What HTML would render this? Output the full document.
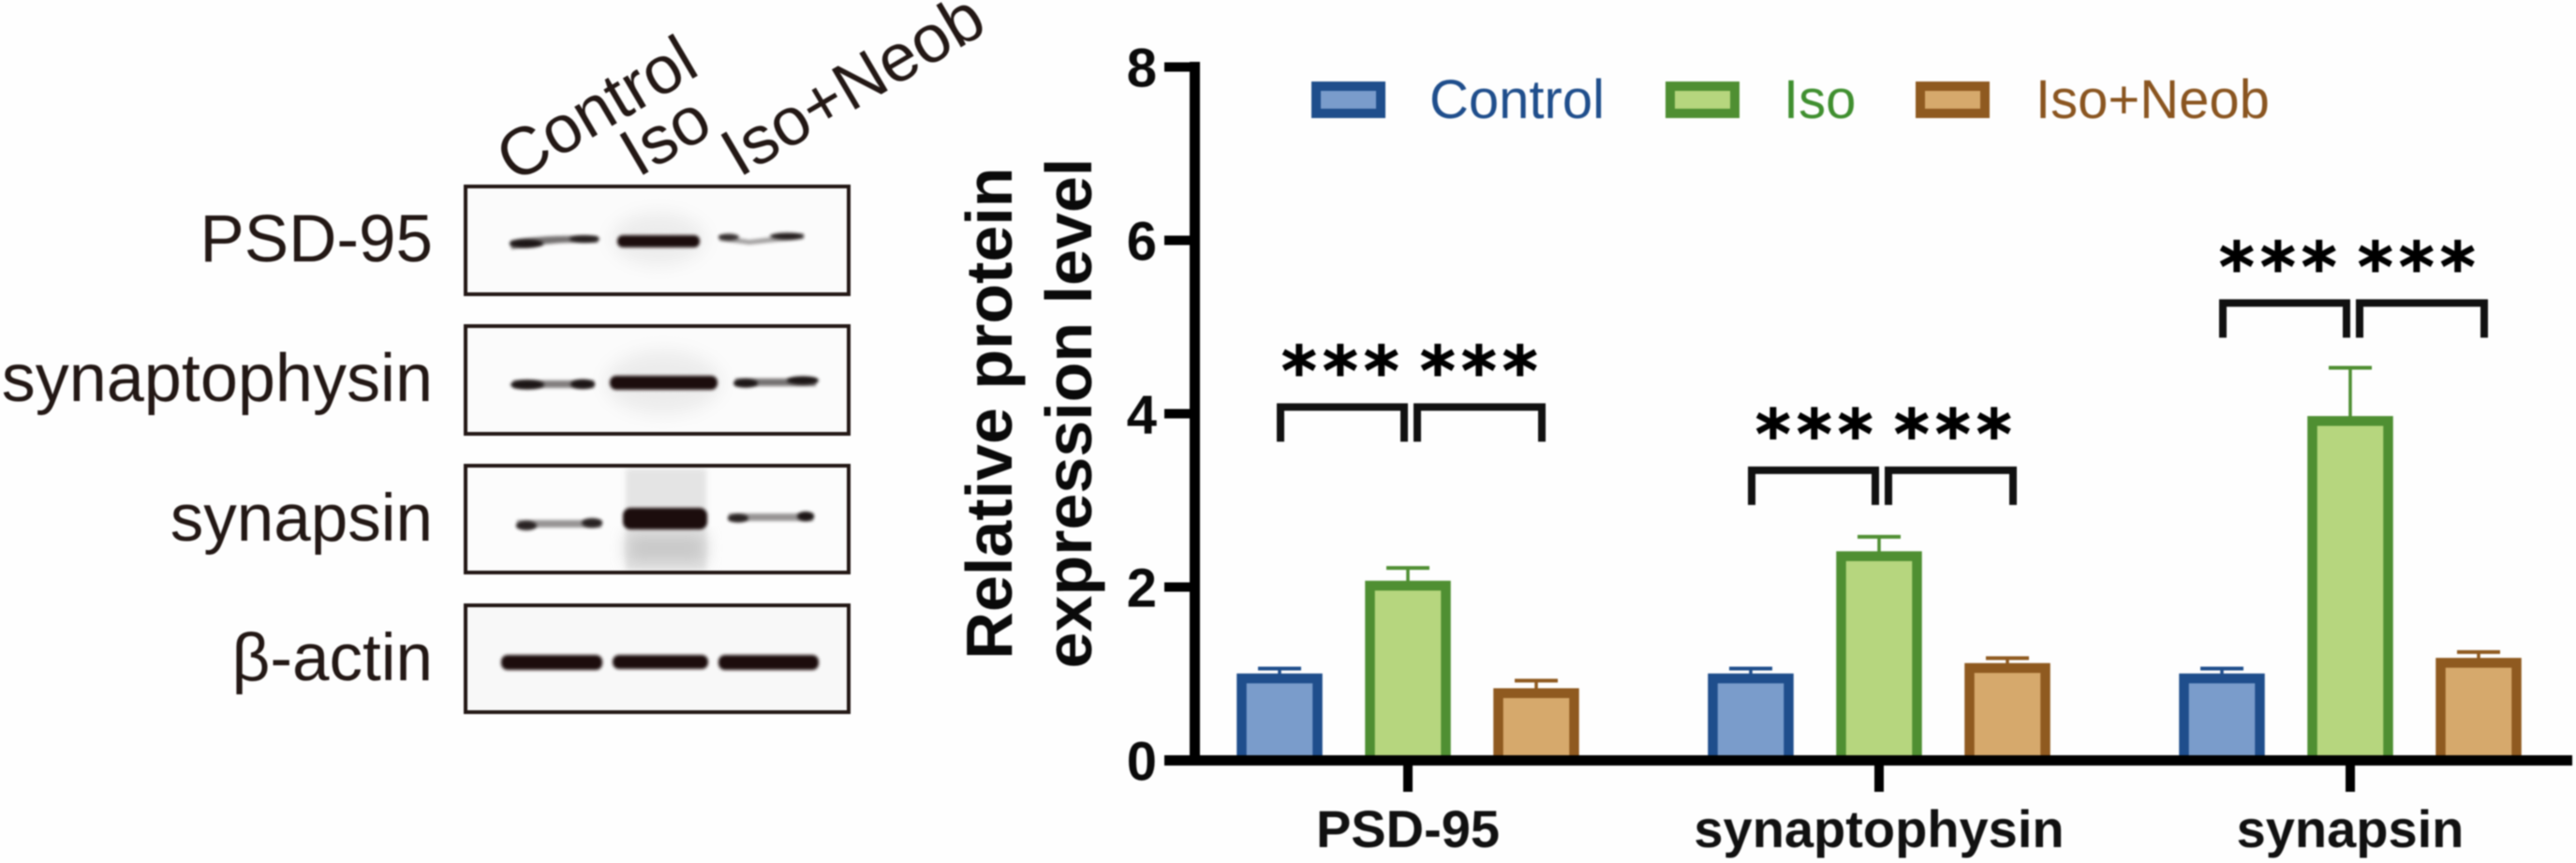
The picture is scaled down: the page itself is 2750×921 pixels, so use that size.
<!DOCTYPE html>
<html lang="en">
<head>
<meta charset="utf-8">
<title>Western blot and relative protein expression</title>
<style>
html,body{margin:0;padding:0;background:#fff;}
body{width:2750px;height:921px;overflow:hidden;}
svg{display:block;filter:blur(0.9px);}
text{font-family:"Liberation Sans",Arial,sans-serif;}
</style>
</head>
<body>
<svg id="fig" xmlns="http://www.w3.org/2000/svg" width="2750" height="921" viewBox="0 0 2750 921">
<defs>
<filter id="b2" x="-20%" y="-100%" width="140%" height="300%"><feGaussianBlur stdDeviation="3"/></filter>
<filter id="b1" x="-20%" y="-100%" width="140%" height="300%"><feGaussianBlur stdDeviation="1.7"/></filter>
<filter id="b8" x="-30%" y="-30%" width="160%" height="160%"><feGaussianBlur stdDeviation="9"/></filter>
</defs>
<rect width="2750" height="921" fill="#fefefe"/>

<g font-size="72" fill="#231815">
<text x="549" y="196" transform="rotate(-30.5 549 196)">Control</text>
<text x="681" y="190" transform="rotate(-30.500 681 190)">Iso</text>
<text x="789" y="190" transform="rotate(-30.500 789 190)">Iso+Neob</text>
</g>
<g font-size="72" fill="#231815" text-anchor="end">
<text x="462" y="279" font-size="71">PSD-95</text>
<text x="462" y="428">synaptophysin</text>
<text x="462" y="577" font-size="71">synapsin</text>
<text x="462" y="726" font-size="71" font-family="'Liberation Sans','DejaVu Sans',sans-serif">β-actin</text>
</g>

<g>
<rect x="497" y="199" width="409" height="115" fill="#fbfbfb"/>
<ellipse cx="703" cy="255" rx="50" ry="28" fill="#ececec" filter="url(#b8)"/>
<path d="M545 257 C570 252 600 251 638 252 L638 259 C600 258 580 260 546 266 Z" fill="#1d1413" opacity=".6" filter="url(#b1)"/>
<ellipse cx="562" cy="260" rx="18" ry="4.500" fill="#1d1413" filter="url(#b1)"/>
<ellipse cx="624" cy="255" rx="16" ry="3.600" fill="#1d1413" opacity=".9" filter="url(#b1)"/>
<rect x="659" y="251" width="88" height="13" rx="6" fill="#1a1110" filter="url(#b1)"/>
<path d="M768 251 L800 256 L858 249 L858 255 L800 261 L768 257 Z" fill="#1d1413" opacity=".4" filter="url(#b1)"/>
<ellipse cx="778" cy="253" rx="11" ry="3.600" fill="#1d1413" opacity=".85" filter="url(#b1)"/>
<ellipse cx="840" cy="252" rx="18" ry="3.600" fill="#1d1413" opacity=".95" filter="url(#b1)"/>
<rect x="497" y="199" width="409" height="115" fill="none" stroke="#231815" stroke-width="4"/>
</g>

<g>
<rect x="497" y="348" width="409" height="115" fill="#fbfbfb"/>
<ellipse cx="708" cy="408" rx="62" ry="34" fill="#ececec" filter="url(#b8)"/>
<rect x="548" y="406" width="86" height="8" fill="#1d1413" opacity=".55" filter="url(#b1)"/>
<ellipse cx="563" cy="410.500" rx="18" ry="5" fill="#1d1413" filter="url(#b1)"/>
<ellipse cx="622" cy="410" rx="13" ry="5" fill="#1d1413" filter="url(#b1)"/>
<rect x="651" y="401" width="115" height="15" rx="7" fill="#1a1110" filter="url(#b1)"/>
<rect x="785" y="404" width="86" height="8" fill="#1d1413" opacity=".6" filter="url(#b1)"/>
<ellipse cx="796" cy="409" rx="13" ry="4.500" fill="#1d1413" filter="url(#b1)"/>
<ellipse cx="857" cy="406" rx="17" ry="4.500" fill="#1d1413" filter="url(#b1)"/>
<rect x="497" y="348" width="409" height="115" fill="none" stroke="#231815" stroke-width="4"/>
</g>

<g>
<rect x="497" y="497" width="409" height="114" fill="#fcfcfc"/>
<rect x="668" y="500" width="86" height="108" fill="#e4e4e4" filter="url(#b2)"/>
<rect x="670" y="570" width="82" height="30" fill="#c8c8c8" filter="url(#b8)"/>
<rect x="552" y="555" width="90" height="8" fill="#1d1413" opacity=".45" filter="url(#b1)"/>
<ellipse cx="562" cy="561" rx="11" ry="5" fill="#1d1413" opacity=".9" filter="url(#b1)"/>
<ellipse cx="632" cy="558" rx="11" ry="5" fill="#1d1413" opacity=".9" filter="url(#b1)"/>
<rect x="665" y="542" width="90" height="23" rx="8" fill="#1a1110" filter="url(#b1)"/>
<rect x="778" y="548" width="90" height="8" fill="#1d1413" opacity=".45" filter="url(#b1)"/>
<ellipse cx="788" cy="553" rx="11" ry="4.500" fill="#1d1413" opacity=".9" filter="url(#b1)"/>
<ellipse cx="860" cy="551" rx="9" ry="5" fill="#1d1413" filter="url(#b1)"/>
<rect x="497" y="497" width="409" height="114" fill="none" stroke="#231815" stroke-width="4"/>
</g>

<g>
<rect x="497" y="646" width="409" height="114" fill="#f8f8f8"/>
<rect x="535" y="699" width="108" height="16" rx="7" fill="#1a1110" filter="url(#b1)"/>
<rect x="654" y="699" width="102" height="15" rx="7" fill="#1a1110" filter="url(#b1)"/>
<rect x="767" y="699" width="107" height="16" rx="7" fill="#1a1110" filter="url(#b1)"/>
<rect x="497" y="646" width="409" height="114" fill="none" stroke="#231815" stroke-width="4"/>
</g>

<g id="chart"></g>
</svg>

<script>
const categories = ['PSD-95', 'synaptophysin', 'synapsin'];
const seriesNames = ['Control', 'Iso', 'Iso+Neob'];
const controlValues = [1.00, 1.00, 1.00];
const isoValues = [2.07, 2.41, 3.97];
const neobValues = [0.83, 1.12, 1.18];
const controlErrors = [1.06, 1.06, 1.06];
const isoErrors = [2.22, 2.58, 4.53];
const neobErrors = [0.92, 1.18, 1.25];
const yTicks = [0, 2, 4, 6, 8];
const significanceLabels = ['***', '***'];
const bracketLevels = [4.12, 3.39, 5.32];

const seriesValues = [controlValues, isoValues, neobValues];
const seriesErrors = [controlErrors, isoErrors, neobErrors];
const strokes = ['#1f4e8c', '#4f8f32', '#8f5a20'];
const fills = ['#7a9ccb', '#b6d67e', '#d6a96c'];
const legendText = ['#1f4e8c', '#3f8f2f', '#8a5520'];
const NS = 'http://www.w3.org/2000/svg';
const root = document.getElementById('chart');

function yScale(v) { return 811.5 - v * 92.5; }
function groupX(i) { return 1503 + i * 503; }
function barX(g, s) { return groupX(g) + (s - 1) * 137; }
function mk(tag, attrs, parent) {
  const el = document.createElementNS(NS, tag);
  for (const k in attrs) el.setAttribute(k, attrs[k]);
  (parent || root).appendChild(el);
  return el;
}

seriesNames.forEach(function (name, s) {
  categories.forEach(function (cat, g) {
    const cx = barX(g, s);
    const top = yScale(seriesValues[s][g]);
    const errY = yScale(seriesErrors[s][g]);
    const stem = mk('line', { x1: cx, x2: cx, y1: errY, y2: top + 2, stroke: strokes[s], 'stroke-width': 3.5 });
    
    
    const cap = mk('line', { x1: cx - 23, x2: cx + 23, y1: errY, y2: errY, stroke: strokes[s], 'stroke-width': 4 });
    
    
    const bar = mk('rect', { x: cx - 40.5, y: top + 5, width: 81, height: yScale(0) - top - 5, fill: fills[s], stroke: strokes[s], 'stroke-width': 10.5 });
    
    
  });
});

const yAxis = mk('rect', { x: 1270, y: 66, width: 11, height: 751, fill: '#000' });


const xAxis = mk('rect', { x: 1243, y: 806, width: 1503, height: 11, fill: '#000' });



yTicks.forEach(function (t) {
  const y = yScale(t);
  const tick = mk('rect', { x: 1243, y: y - 5, width: 30, height: 10, fill: '#000' });
  
  
  const label = mk('text', { x: 1235, y: y + 21, 'text-anchor': 'end', 'font-size': 58, 'font-weight': 'bold', fill: '#0a0a0a' });
  label.textContent = t;
  
  
});

categories.forEach(function (cat, g) {
  const cx = groupX(g);
  const tick = mk('rect', { x: cx - 5, y: 815, width: 10, height: 30, fill: '#000' });
  
  
  const label = mk('text', { x: cx, y: 904, 'text-anchor': 'middle', 'font-size': 56, 'font-weight': 'bold', fill: '#111' });
  label.textContent = cat;
  
  
});

const titleA = mk('text', { x: 1080, y: 441, 'text-anchor': 'middle', 'font-size': 70, 'font-weight': 'bold', fill: '#0a0a0a', transform: 'rotate(-90 1080 441)' });
titleA.textContent = 'Relative protein';


const titleB = mk('text', { x: 1165, y: 441, 'text-anchor': 'middle', 'font-size': 70, 'font-weight': 'bold', fill: '#0a0a0a', transform: 'rotate(-90 1165 441)' });
titleB.textContent = 'expression level';



const legendSwatchX = [1400, 1778, 2045];
const legendTextX = [1526, 1904, 2173];
seriesNames.forEach(function (name, s) {
  const sw = mk('rect', { x: legendSwatchX[s] + 5, y: 92, width: 69, height: 29, fill: fills[s], stroke: strokes[s], 'stroke-width': 10 });
  
  
  const label = mk('text', { x: legendTextX[s], y: 126, 'font-size': 58, fill: legendText[s] });
  label.textContent = name;
  
  
});

const starShift = [0, 3, -5];
categories.forEach(function (cat, g) {
  const cx = groupX(g);
  const top = yScale(bracketLevels[g]);
  const left = mk('path', { d: 'M' + (cx - 136) + ' ' + (top + 41) + 'V' + (top + 4) + 'H' + (cx - 4) + 'V' + (top + 41), fill: 'none', stroke: '#111', 'stroke-width': 8 });
  
  
  const right = mk('path', { d: 'M' + (cx + 10) + ' ' + (top + 41) + 'V' + (top + 4) + 'H' + (cx + 143) + 'V' + (top + 41), fill: 'none', stroke: '#111', 'stroke-width': 8 });
  
  
  significanceLabels.forEach(function (txt, k) {
    const sx = cx + (k === 0 ? -135 : 13) + starShift[g];
    const star = mk('text', { x: sx, y: top - 9.5, 'font-size': 72, 'font-weight': 'bold', 'letter-spacing': 6.3, fill: '#000', stroke: '#000', 'stroke-width': 1, style: 'font-family:"DejaVu Sans",sans-serif' });
    star.textContent = txt;
    
    
  });
});
</script>
</body>
</html>
